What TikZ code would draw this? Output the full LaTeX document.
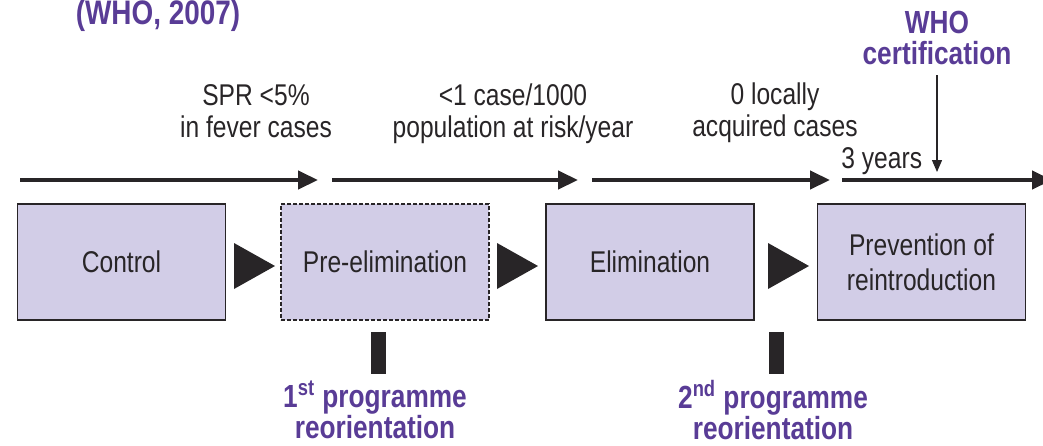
\documentclass[tikz,border=0pt]{standalone}
\usepackage{fontspec}
\setmainfont{Liberation Sans}[FakeStretch=0.82]
\usetikzlibrary{arrows.meta}

\definecolor{stagefill}{RGB}{210,205,231}
\definecolor{stageline}{RGB}{40,37,39}
\definecolor{whopurple}{RGB}{89,60,150}

\tikzset{
  stage/.style={draw=stageline, line width=0.9pt, fill=stagefill,
    minimum width=104pt, minimum height=58pt, inner sep=0pt, align=center,
    text=stageline, font=\fontsize{15}{17.5}\selectfont},
  crit/.style={align=center, inner sep=0pt, text=stageline,
    font=\fontsize{15}{16}\selectfont},
  milestone/.style={align=center, inner sep=0pt, text=whopurple,
    font=\bfseries\fontsize{16}{15.5}\selectfont},
  timeline/.style={draw=stageline, line width=2.2pt,
    -{Triangle[length=10pt,width=9pt]}},
}

\begin{document}
\begin{tikzpicture}[x=0.5pt,y=-0.5pt]
            \useasboundingbox (0,0) rectangle (1043,445);
            \clip (0,0) rectangle (1043,445);

            % Source of the scheme
            \node[milestone, font=\bfseries\fontsize{17}{17}\selectfont, anchor=base]
              (src) at (158,24) {(WHO, 2007)};

            % The four programme phases
            \node[stage] (ctrl) at (121.5,262) {Control};
            \node[stage, dash pattern=on 2pt off 1pt] (pre) at (385,262) {Pre-elimination};
            \node[stage] (elim) at (650,262) {Elimination};
            \node[stage] (prev) at (921.5,262) {Prevention of\\reintroduction};

            % Black triangles between the phases
            \foreach \x in {234,497,768}
              \fill[stageline] (\x,243) -- ++(41,23) -- ++(-41,23) -- cycle;

            % Time line above the phases
            \coordinate (t0) at (20,180);   \coordinate (t1) at (318,180);
            \coordinate (t2) at (332,180);  \coordinate (t3) at (578,180);
            \coordinate (t4) at (592,180);  \coordinate (t5) at (830,180);
            \coordinate (t6) at (842,180);  \coordinate (t7) at (1052,180);
            \draw[timeline] (t0) -- (t1);
            \draw[timeline] (t2) -- (t3);
            \draw[timeline] (t4) -- (t5);
            \draw[timeline] (t6) -- (t7);

            % Criteria for moving on
            \node[crit] (spr) at (256,111) {SPR <5\%\\in fever cases};
            \node[crit] (api) at (513,114) {<1 case/1000\\population at risk/year};
            \node[crit] (zero) at (775,113) {0 locally\\acquired cases};
            \node[crit, anchor=base west] (yrs) at (841,168) {3 years};

            % Certification after three years
            \node[milestone] (cert) at (937,38) {WHO\\certification};
            \coordinate (certpt) at (937,172);
            \draw[stageline, line width=0.7pt, -{Triangle[length=6pt,width=5pt]},
                  shorten <=5pt] (cert.south) -- (certpt);

            % Programme reorientation marks
            \fill[stageline] (371,332) rectangle (386,374);
            \fill[stageline] (769,332) rectangle (784,374);
            \node[milestone] (reo1) at (375,410) {1\textsuperscript{st} programme\\reorientation};
            \node[milestone] (reo2) at (773,410) {2\textsuperscript{nd} programme\\reorientation};
        \end{tikzpicture}
\end{document}
